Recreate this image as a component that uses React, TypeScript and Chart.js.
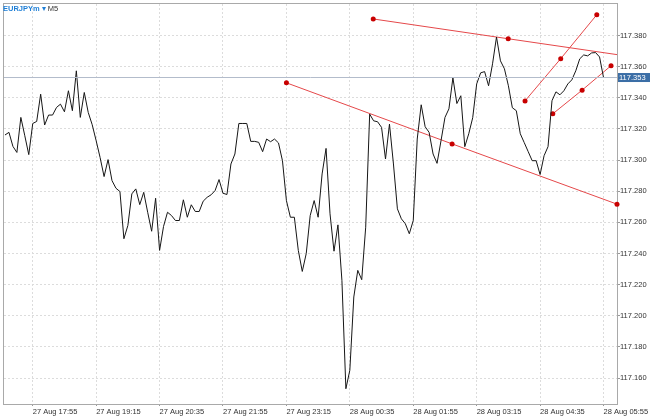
import React, { useEffect, useRef } from "react";
import { Chart, registerables } from "chart.js";

Chart.register(...registerables);

// ---- data ----
const closes: number[] = [
  117.3161, 117.3178, 117.3088, 117.3049, 117.3274, 117.3156, 117.3035, 117.3235, 117.3248, 117.3423,
  117.3225, 117.3289, 117.3289, 117.3338, 117.3359, 117.331, 117.3445, 117.3317, 117.3573, 117.3274,
  117.3434, 117.3306, 117.3227, 117.3124, 117.3016, 117.2894, 117.3003, 117.2868, 117.2819, 117.2798,
  117.2495, 117.258, 117.2783, 117.2815, 117.2714, 117.2793, 117.2665, 117.2543, 117.2755, 117.242,
  117.2574, 117.2665, 117.2644, 117.2612, 117.2612, 117.2745, 117.2633, 117.2713, 117.267, 117.267,
  117.2736, 117.2761, 117.2777, 117.2804, 117.2875, 117.2787, 117.2779, 117.2975, 117.3039, 117.3235,
  117.3235, 117.3235, 117.312, 117.312, 117.3114, 117.3054, 117.3135, 117.3118, 117.3135, 117.311,
  117.2996, 117.274, 117.2633, 117.2633, 117.242, 117.2285, 117.24, 117.2644, 117.274, 117.2633,
  117.2911, 117.3075, 117.2655, 117.2415, 117.2584, 117.2228, 117.1532, 117.1651, 117.2121, 117.2292,
  117.2232, 117.2569, 117.3295, 117.3252, 117.3246, 117.321, 117.3007, 117.3231, 117.2975, 117.2687,
  117.2623, 117.2591, 117.2527, 117.2612, 117.3135, 117.3355, 117.3214, 117.3178, 117.3039, 117.2979,
  117.3124, 117.3274, 117.3329, 117.3528, 117.3363, 117.3413, 117.3086, 117.3169, 117.3272, 117.3489,
  117.356, 117.3568, 117.3477, 117.3618, 117.379, 117.3637, 117.3586, 117.3477, 117.3336, 117.3317,
  117.3169, 117.3112, 117.3054, 117.2996, 117.2996, 117.2907, 117.3028, 117.3086, 117.3381, 117.3438,
  117.3419, 117.3445, 117.3489, 117.3515, 117.3573, 117.365, 117.3675, 117.3669, 117.3688, 117.369,
  117.3662, 117.353,
];

const xTickBars: number[] = [7, 23, 39, 55, 71, 87, 103, 119, 135, 151];
const xTickLabels: string[] = [
  "27 Aug 17:55", "27 Aug 19:15", "27 Aug 20:35", "27 Aug 21:55", "27 Aug 23:15",
  "28 Aug 00:35", "28 Aug 01:55", "28 Aug 03:15", "28 Aug 04:35", "28 Aug 05:55",
];
const yTicks: number[] = [
  117.16, 117.18, 117.2, 117.22, 117.24, 117.26, 117.28, 117.3, 117.32, 117.34, 117.36, 117.38,
];
const lastPrice = 117.353;

// trend line anchors: [bar index, price]
const trendA: number[][] = [[92.9, 117.3906], [126.95, 117.3779], [154.4, 117.3677]];
const trendADots: number[] = [2.5, 2.5, 0];
const trendB: number[][] = [[71.0, 117.3496], [112.8, 117.3104], [154.4, 117.2717]];
const trendC: number[][] = [[131.2, 117.338], [140.2, 117.3651], [149.3, 117.3933]];
const trendD: number[][] = [[138.2, 117.3297], [145.6, 117.3449], [152.9, 117.3606]];

const X_MIN = -0.25;
const X_MAX = 154.4;
const Y_MIN = 117.1434;
const Y_MAX = 117.4002;

const FONT = "'Liberation Sans', Arial, Helvetica, sans-serif";

const frame = {
  id: "frame",
  beforeDatasetsDraw(chart: any) {
    const { ctx, chartArea } = chart;
    ctx.save();
    ctx.strokeStyle = "#a9a9a9";
    ctx.lineWidth = 1;
    ctx.strokeRect(
      Math.round(chartArea.left) - 0.5,
      Math.round(chartArea.top) - 0.5,
      Math.round(chartArea.right - chartArea.left) + 1,
      Math.round(chartArea.bottom - chartArea.top) + 1
    );
    ctx.restore();
  },
  afterDraw(chart: any) {
    const { ctx, chartArea, scales } = chart;
    const y = scales.y.getPixelForValue(lastPrice);
    ctx.save();
    ctx.fillStyle = "#3b6ea6";
    ctx.fillRect(chartArea.right + 1, y - 4.5, 40, 9);
    ctx.fillStyle = "#ffffff";
    ctx.font = `7.5px ${FONT}`;
    ctx.textBaseline = "middle";
    ctx.textAlign = "left";
    ctx.fillText(lastPrice.toFixed(3), chartArea.right + 2, y + 0.5);
    ctx.restore();
  },
};

function trendSet(pts: number[][], radius: number[] | number) {
  return {
    data: pts.map((p) => ({ x: p[0], y: p[1] })),
    borderColor: "#e5484a",
    borderWidth: 1,
    pointRadius: radius,
    pointBackgroundColor: "#c80000",
    pointBorderWidth: 0,
    tension: 0,
    clip: false as any,
  };
}

export default function App() {
  const ref = useRef<HTMLCanvasElement | null>(null);

  useEffect(() => {
    if (!ref.current) return;
    const chart = new Chart(ref.current, {
      type: "line",
      data: {
        datasets: [
          {
            data: [
              { x: X_MIN, y: lastPrice },
              { x: X_MAX, y: lastPrice },
            ],
            borderColor: "#b3bccb",
            borderWidth: 1,
            pointRadius: 0,
          },
          {
            data: closes.map((v, i) => ({ x: i, y: v })),
            borderColor: "#161616",
            borderWidth: 1,
            pointRadius: 0,
            tension: 0,
          },
          trendSet(trendA, trendADots),
          trendSet(trendB, 2.5),
          trendSet(trendC, 2.5),
          trendSet(trendD, 2.5),
        ] as any,
      },
      options: {
        animation: false,
        responsive: false,
        maintainAspectRatio: false,
        devicePixelRatio: 1,
        layout: { padding: { left: 3, top: 3, right: 0, bottom: 0 } },
        plugins: { legend: { display: false }, tooltip: { enabled: false } },
        scales: {
          x: {
            type: "linear",
            min: X_MIN,
            max: X_MAX,
            position: "bottom",
            afterBuildTicks: (s: any) => {
              s.ticks = xTickBars.map((v) => ({ value: v }));
            },
            afterFit: (s: any) => {
              s.height = 16;
              s.paddingLeft = 0;
              s.paddingRight = 0;
            },
            ticks: {
              autoSkip: false,
              maxRotation: 0,
              minRotation: 0,
              align: "start",
              padding: 1,
              color: "#333333",
              font: { family: FONT, size: 7.5 },
              callback: (v: any) => {
                const k = xTickBars.indexOf(Number(v));
                return k >= 0 ? xTickLabels[k] : "";
              },
            },
            grid: {
              color: "#dcdcdc",
              lineWidth: 1,
              drawTicks: true,
              tickLength: 2,
              tickColor: "#999999",
            },
            border: { display: false, dash: [2, 2] },
          },
          y: {
            type: "linear",
            min: Y_MIN,
            max: Y_MAX,
            position: "right",
            afterBuildTicks: (s: any) => {
              s.ticks = yTicks.map((v) => ({ value: v }));
            },
            afterFit: (s: any) => {
              s.width = 33;
              s.paddingTop = 0;
              s.paddingBottom = 0;
            },
            ticks: {
              autoSkip: false,
              padding: 0,
              color: "#333333",
              font: { family: FONT, size: 7.5 },
              callback: (v: any) => Number(v).toFixed(3),
            },
            grid: {
              color: "#dcdcdc",
              lineWidth: 1,
              drawTicks: true,
              tickLength: 3,
              tickColor: "#999999",
            },
            border: { display: false, dash: [2, 2] },
          },
        },
      },
      plugins: [frame],
    });
    return () => chart.destroy();
  }, []);

  return (
    <div
      style={{
        position: "fixed",
        left: 0,
        top: 0,
        width: 650,
        height: 420,
        background: "#ffffff",
        overflow: "hidden",
      }}
    >
      <canvas ref={ref} width={650} height={420} style={{ width: 650, height: 420, display: "block" }} />
      <div
        style={{
          position: "absolute",
          left: 3,
          top: 4,
          fontFamily: FONT,
          fontSize: 7.5,
          lineHeight: "9px",
          whiteSpace: "nowrap",
        }}
      >
        <span style={{ color: "#1f7fd6", fontWeight: "bold" }}>EURJPYm</span>
        <span style={{ color: "#1f7fd6" }}> ▾ </span>
        <span style={{ color: "#333333" }}>M5</span>
      </div>
    </div>
  );
}
